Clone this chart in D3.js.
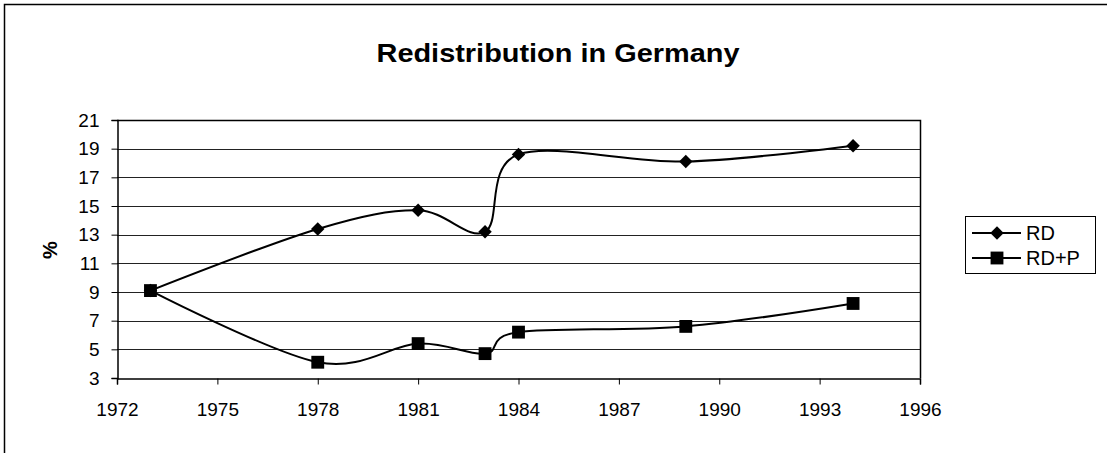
<!DOCTYPE html>
<html>
<head>
<meta charset="utf-8">
<script src="https://cdn.jsdelivr.net/npm/d3@7"></script>
<style>
  body { margin: 0; background: #fff; }
  text { font-family: Arial, "Liberation Sans", sans-serif; fill: #000; }
</style>
</head>
<body>
<div id="chart"></div>
<script>
var years = [1973, 1978, 1981, 1983, 1984, 1989, 1994];
var rd = [9.1, 13.4, 14.7, 13.2, 18.6, 18.1, 19.2];
var rdp = [9.1, 4.1, 5.4, 4.7, 6.2, 6.6, 8.2];
var xTicks = [1972, 1975, 1978, 1981, 1984, 1987, 1990, 1993, 1996];
var yTicks = [3, 5, 7, 9, 11, 13, 15, 17, 19, 21];
var seriesNames = ["RD", "RD+P"];

var width = 1107, height = 453;
var plotL = 117, plotR = 920, plotT = 120, plotB = 378;

var svg = d3.select("#chart").append("svg")
    .attr("width", width)
    .attr("height", height);

// outer chart border (only top/left visible)
svg.append("rect")
    .attr("x", 4.5).attr("y", 4.5)
    .attr("width", 1200).attr("height", 600)
    .attr("fill", "none").attr("stroke", "#000").attr("stroke-width", 1.5);

var x = d3.scaleLinear().domain([1972, 1996]).range([plotL, plotR]);
var y = d3.scaleLinear().domain([3, 21]).range([plotB, plotT]);

svg.append("text")
    .attr("x", 558).attr("y", 62)
    .attr("text-anchor", "middle")
    .style("font-weight", "bold")
    .style("font-size", "25px")
    .attr("textLength", 363)
    .attr("lengthAdjust", "spacingAndGlyphs")
    .text("Redistribution in Germany");

// gridlines
svg.append("g").selectAll("line")
    .data(yTicks.filter(function(d){ return d > 3 && d < 21; }))
    .enter().append("line")
    .attr("x1", plotL).attr("x2", plotR)
    .attr("y1", function(d){ return Math.round(y(d)) + 0.5; })
    .attr("y2", function(d){ return Math.round(y(d)) + 0.5; })
    .attr("stroke", "#222").attr("stroke-width", 1);

// frame top/right
svg.append("path")
    .attr("d", "M" + plotL + "," + (plotT + 0.5) + "H" + (plotR + 0.5) + "V" + plotB)
    .attr("fill", "none").attr("stroke", "#000").attr("stroke-width", 1.5);

var yAxis = svg.append("g")
    .attr("transform", "translate(" + (plotL + 0.5) + ",0)")
    .call(d3.axisLeft(y).tickValues(yTicks).tickSize(6).tickPadding(12));
var xAxis = svg.append("g")
    .attr("transform", "translate(0," + (plotB + 0.5) + ")")
    .call(d3.axisBottom(x).tickValues(xTicks).tickFormat(d3.format("d")).tickSize(6).tickPadding(18));

[yAxis, xAxis].forEach(function(a) {
  a.select(".domain").attr("stroke", "#000").attr("stroke-width", 1.5);
  a.selectAll(".tick line").attr("stroke", "#000");
  a.selectAll("text").style("font-size", "19px").attr("fill", "#000")
    .style("font-family", "Arial, 'Liberation Sans', sans-serif");
});

svg.append("text")
    .attr("transform", "translate(57,250) rotate(-90)")
    .attr("text-anchor", "middle")
    .style("font-weight", "bold")
    .style("font-size", "20px")
    .text("%");

var line = d3.line()
    .x(function(d){ return x(d[0]); })
    .y(function(d){ return y(d[1]); })
    .curve(d3.curveCardinal.tension(0));

var diamond = d3.symbol().type(d3.symbolDiamond2).size(115);
var square = d3.symbol().type(d3.symbolSquare).size(165);

[rd, rdp].forEach(function(vals, i) {
  var pts = years.map(function(yr, j){ return [yr, vals[j]]; });
  svg.append("path")
      .attr("d", line(pts))
      .attr("fill", "none").attr("stroke", "#000").attr("stroke-width", 2);
  svg.append("g").selectAll("path")
      .data(pts).enter().append("path")
      .attr("d", i === 0 ? diamond : square)
      .attr("transform", function(d){ return "translate(" + x(d[0]) + "," + y(d[1]) + ")"; })
      .attr("fill", "#000");
});

// legend
var lg = svg.append("g");
lg.append("rect")
    .attr("x", 965.5).attr("y", 216.5).attr("width", 130).attr("height", 57)
    .attr("fill", "#fff").attr("stroke", "#000").attr("stroke-width", 1);
seriesNames.forEach(function(name, i) {
  var ly = 233 + i * 25;
  lg.append("line")
      .attr("x1", 972).attr("x2", 1021).attr("y1", ly).attr("y2", ly)
      .attr("stroke", "#000").attr("stroke-width", 2);
  lg.append("path")
      .attr("d", i === 0 ? diamond : square)
      .attr("transform", "translate(997," + ly + ")")
      .attr("fill", "#000");
  lg.append("text")
      .attr("x", 1026).attr("y", ly + 7)
      .style("font-size", "20px")
      .text(name);
});
</script>
</body>
</html>
